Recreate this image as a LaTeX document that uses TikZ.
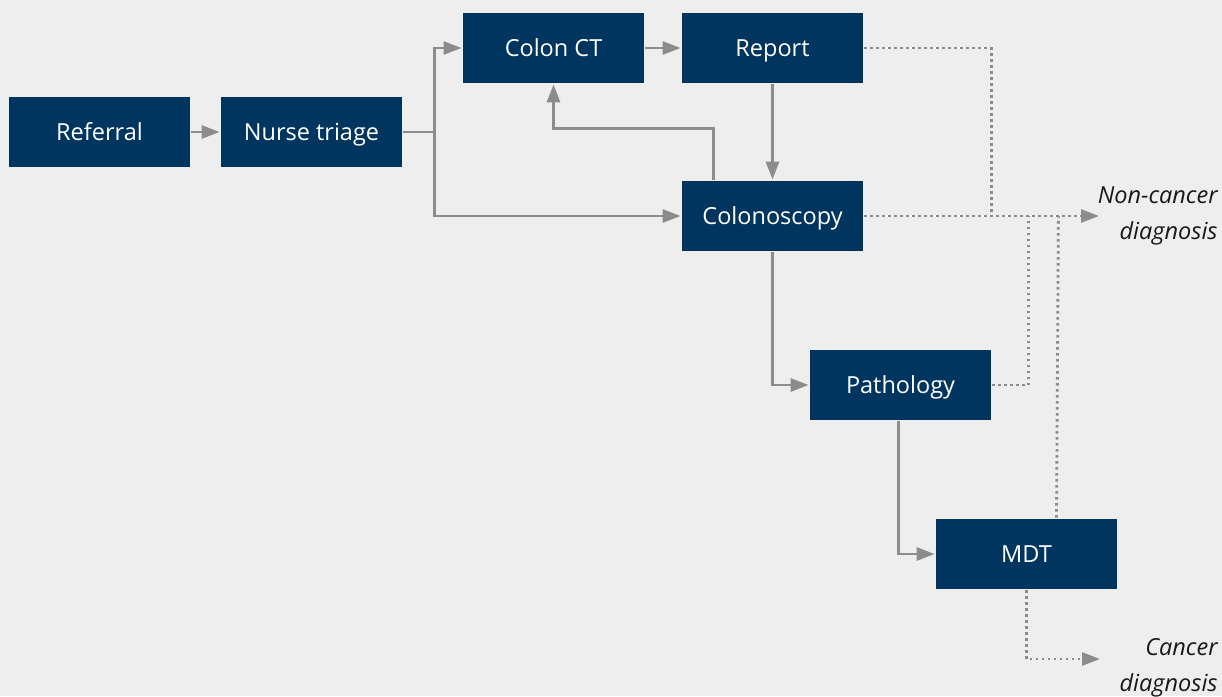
\documentclass[tikz,border=0pt]{standalone}
\usepackage{fontspec}
\setmainfont{Open Sans}
\usepackage{tikz}
\usetikzlibrary{shapes,arrows.meta}
\definecolor{navy}{HTML}{00355F}
\definecolor{linegrey}{HTML}{8C8C8C}
\definecolor{bggrey}{HTML}{EEEEEE}
\tikzstyle{stage}=[rectangle,fill=navy,text=white,minimum width=181pt,minimum height=70pt,inner sep=0pt,text height=19pt,text depth=2pt,font=\fontsize{23.5}{28}\selectfont]
\tikzstyle{outcome}=[align=right,anchor=east,inner sep=0pt,text=black!90,font=\fontsize{23.5}{36}\selectfont\itshape]

\begin{document}
\begin{tikzpicture}[x=1pt,y=-1pt,line width=2.8pt,draw=linegrey,-{Triangle[length=18pt,width=13pt]}]
    \tikzstyle{flow}=[draw=linegrey]
    \tikzstyle{maybe}=[draw=linegrey,dash pattern=on 2.5pt off 3.5pt]
    \fill[bggrey] (0,0) rectangle (1222,696);
    \useasboundingbox (0,0) rectangle (1222,696);
    \node[stage] (Ref)  at (99.5,132)   {Referral};
    \node[stage] (NT)   at (311.5,132)  {Nurse triage};
    \node[stage] (CT)   at (553.5,48)   {Colon CT};
    \node[stage] (Rep)  at (772.5,48)   {Report};
    \node[stage] (Col)  at (772.5,216)  {Colonoscopy};
    \node[stage] (Path) at (900.5,385)  {Pathology};
    \node[stage] (MDT)  at (1026.5,554) {MDT};
    \node[outcome] (NC) at (1219,216) {Non-cancer\\diagnosis};
    \node[outcome] (CA) at (1219,668) {Cancer\\diagnosis};
    \coordinate (NCtip) at (1099,216);
    \coordinate (CAtip) at (1100,659);
    \draw[flow] (Ref) -- (NT);
    \draw[flow] (NT.east) -- ++(31,0) |- (CT.west);
    \draw[flow] (NT.east) -- ++(31,0) |- (Col.west);
    \draw[flow] (CT) -- (Rep);
    \draw[flow] (Rep) -- (Col);
    \draw[flow] ([xshift=33pt]Col.north west) -- ++(0,-51) -| (CT.south);
    \draw[flow] (Col.south) |- (Path.west);
    \draw[flow] ([xshift=-2pt]Path.south) |- (MDT.west);
    \draw[maybe] (Col.east) -- (NCtip);
    \draw[maybe,-] (Rep.east) -| ([xshift=127pt]Col.east);
    \draw[maybe,-] (Path.east) -| ([xshift=164pt]Col.east);
    \draw[maybe,-] ([xshift=30pt]MDT.north) -- ([xshift=194pt]Col.east);
    \draw[maybe] (MDT.south) |- (CAtip);
\end{tikzpicture}
\end{document}
